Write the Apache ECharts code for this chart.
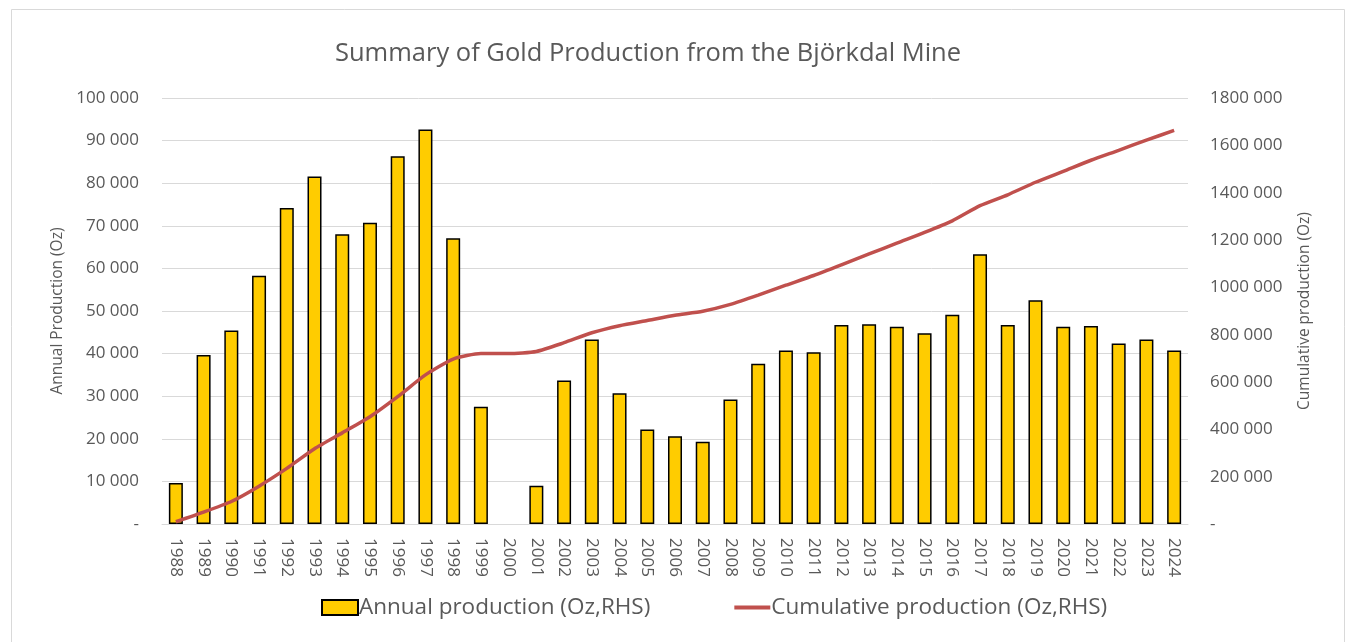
<!DOCTYPE html>
<html>
<head>
<meta charset="utf-8">
<title>Björkdal gold production</title>
<script src="https://cdn.jsdelivr.net/npm/echarts@6/dist/echarts.min.js"></script>
<style>
  html, body { margin: 0; padding: 0; background: #fff; }
  #main { width: 1348px; height: 642px; }
</style>
</head>
<body>
<div id="main"></div>
<script>
// values
const years = ["1988", "1989", "1990", "1991", "1992", "1993", "1994", "1995", "1996", "1997",
  "1998", "1999", "2000", "2001", "2002", "2003", "2004", "2005", "2006", "2007",
  "2008", "2009", "2010", "2011", "2012", "2013", "2014", "2015", "2016", "2017",
  "2018", "2019", "2020", "2021", "2022", "2023", "2024"];
const annual = [9600, 39700, 45400, 58300, 74200, 81600, 68000, 70700, 86300, 92600,
  67100, 27500, 0, 9000, 33700, 43300, 30700, 22200, 20600, 19300,
  29200, 37600, 40700, 40300, 46700, 46900, 46300, 44800, 49100, 63300,
  46700, 52500, 46300, 46500, 42400, 43300, 40700];
const cumulative = [9600, 50000, 95000, 160000, 235000, 318000, 385000, 453000, 538000, 630000,
  697000, 720000, 720000, 729000, 766000, 808000, 838000, 860000, 882000, 899000,
  928000, 967000, 1009000, 1050000, 1095000, 1141000, 1187000, 1232000, 1281000, 1345000,
  1391000, 1444000, 1490000, 1537000, 1579000, 1622000, 1663000];

const FONT = "Open Sans";
const GREY = "#595959";

function fmt(v) {
  if (v === 0) return "-";
  return (v / 1000) + " 000";
}

const myChart = echarts.init(document.getElementById("main"));

const options = {
  backgroundColor: "#fff",
  animation: false,
  textStyle: { fontFamily: FONT, color: GREY },
  title: {
    text: "Summary of Gold Production from the Björkdal Mine",
    left: 330,
    top: 36,
    textStyle: { fontFamily: FONT, fontSize: 25.5, fontWeight: "normal", color: GREY }
  },
  graphic: [{
    type: "rect",
    shape: { x: 11.5, y: 9.5, width: 1333, height: 640 },
    style: { fill: "none", stroke: "#d9d9d9", lineWidth: 1 },
    silent: true
  }],
  legend: {
    bottom: 18,
    left: 316,
    itemGap: 84,
    itemWidth: 36,
    itemHeight: 15,
    textStyle: { fontFamily: FONT, fontSize: 22.5, color: GREY, padding: [0, 0, 0, -4] },
    data: [
      { name: "Annual production (Oz,RHS)", icon: "rect" },
      { name: "Cumulative production (Oz,RHS)", icon: "path://M0,0H36V4H0Z", itemStyle: { color: "#C0504D" } }
    ]
  },
  grid: { left: 162, right: 160, top: 98, bottom: 118 },
  xAxis: {
    type: "category",
    data: years,
    axisLine: { lineStyle: { color: "#d9d9d9", width: 1 } },
    axisTick: { show: false },
    axisLabel: { rotate: -90, margin: 14, fontSize: 17, color: GREY, fontFamily: FONT, interval: 0 }
  },
  yAxis: [
    {
      type: "value",
      min: 0,
      max: 100000,
      interval: 10000,
      name: "Annual Production (Oz)",
      nameLocation: "middle",
      nameGap: 96,
      nameTextStyle: { fontSize: 15.5, color: GREY, fontFamily: FONT },
      axisLabel: { formatter: fmt, fontSize: 17, color: GREY, margin: 23, fontFamily: FONT },
      splitLine: { lineStyle: { color: "#d9d9d9", width: 1 } },
      axisLine: { show: false },
      axisTick: { show: false }
    },
    {
      type: "value",
      min: 0,
      max: 1800000,
      interval: 200000,
      name: "Cumulative production (Oz)",
      nameLocation: "middle",
      nameGap: 109,
      nameTextStyle: { fontSize: 15.5, color: GREY, fontFamily: FONT },
      axisLabel: { formatter: fmt, fontSize: 17, color: GREY, margin: 22, fontFamily: FONT },
      splitLine: { show: false },
      axisLine: { show: false },
      axisTick: { show: false }
    }
  ],
  series: [
    {
      name: "Annual production (Oz,RHS)",
      type: "bar",
      // a zero year draws no bar at all
      data: annual.map((v) => (v === 0 ? "-" : v)),
      yAxisIndex: 0,
      barWidth: 14,
      itemStyle: { color: "#FFCC00", borderColor: "#000", borderWidth: 1.5 }
    },
    {
      name: "Cumulative production (Oz,RHS)",
      type: "line",
      data: cumulative,
      yAxisIndex: 1,
      symbol: "none",
      smooth: 0.2,
      lineStyle: { color: "#C0504D", width: 3.5 },
      itemStyle: { color: "#C0504D" },
      z: 5
    }
  ]
};

myChart.setOption(options);
window.onresize = function() {
  myChart.resize();
};
</script>
</body>
</html>
